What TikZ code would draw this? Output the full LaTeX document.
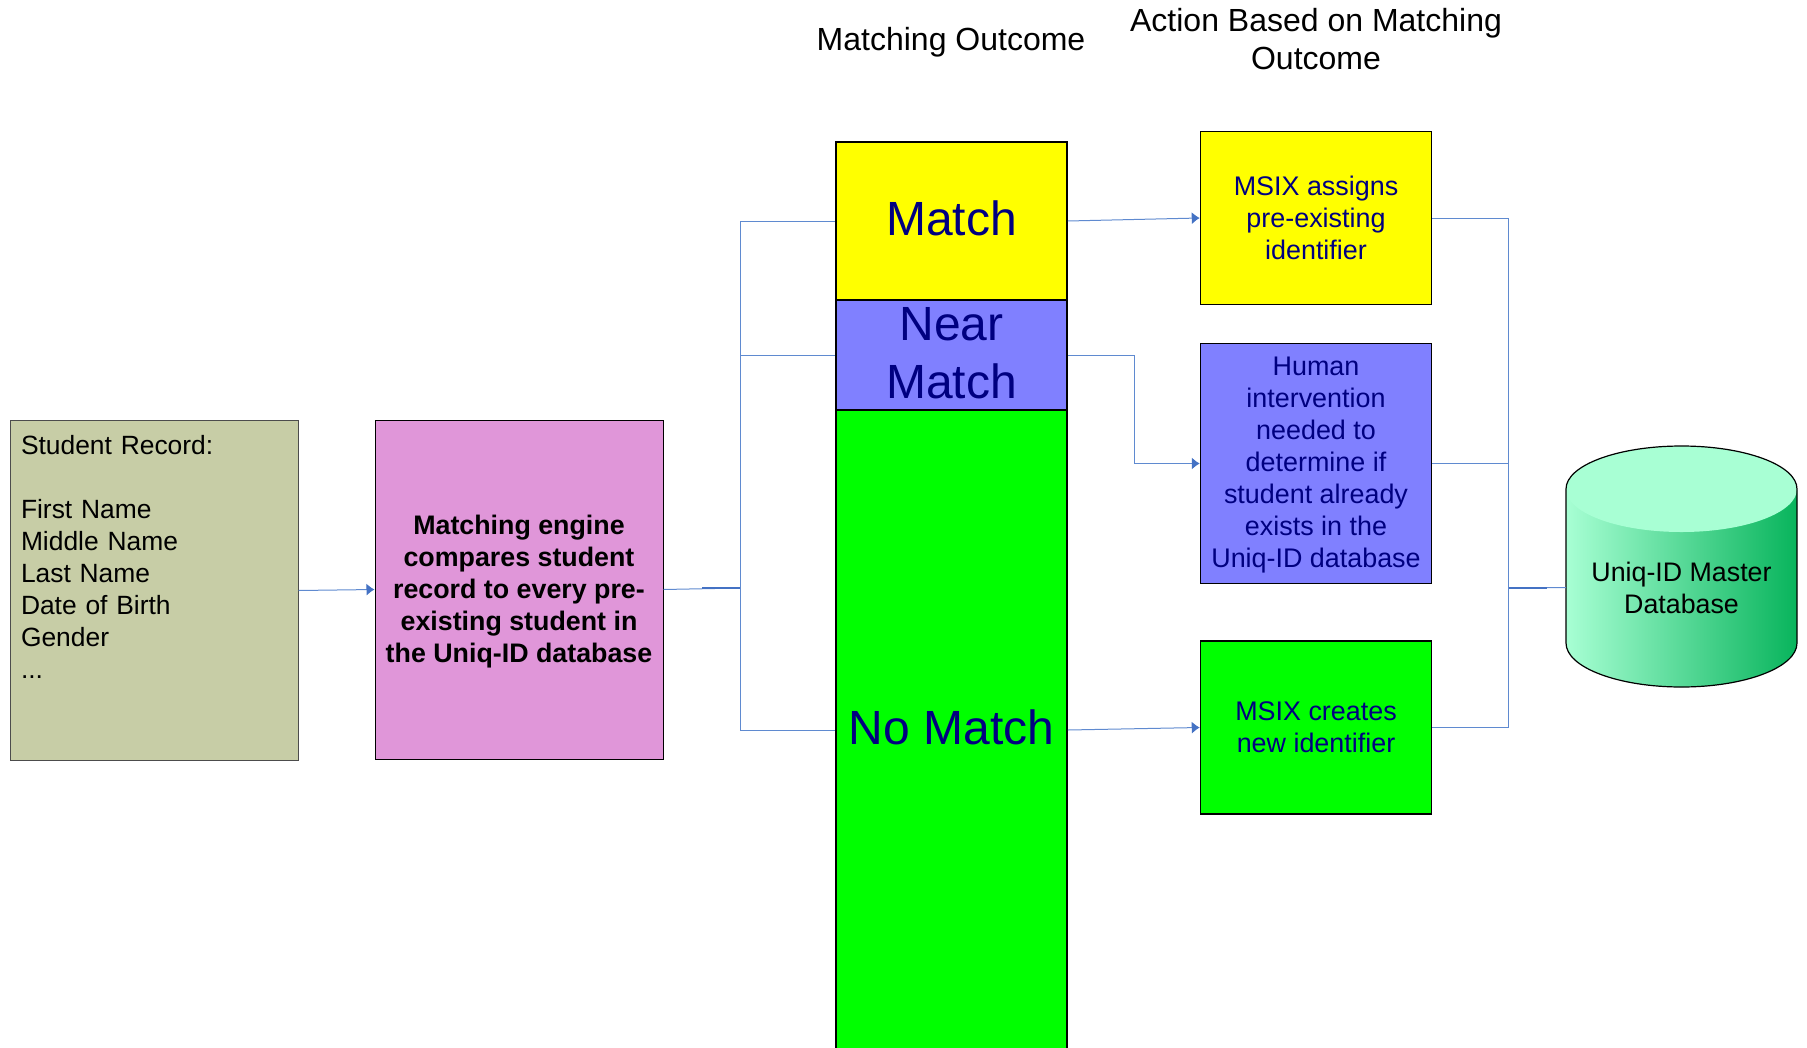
\documentclass[tikz,border=0pt]{standalone}
\usepackage{fontspec}
\setmainfont{Liberation Sans}
\usetikzlibrary{arrows.meta}
\definecolor{recordcol}{HTML}{C7CDA6}
\definecolor{enginecol}{HTML}{E096D9}
\definecolor{matchcol}{HTML}{FFFF00}
\definecolor{nearcol}{HTML}{8080FF}
\definecolor{nomatchcol}{HTML}{00FF00}
\definecolor{textcol}{HTML}{000080}
\definecolor{linecol}{HTML}{5F8AD0}
\definecolor{headcol}{HTML}{4472C4}
\definecolor{canlight}{HTML}{A8FFD4}
\definecolor{candark}{HTML}{08B45C}
\tikzset{
	basebox/.style={draw=black, line width=1.5pt, inner sep=0pt, align=center, text=textcol},
	outcome/.style={basebox, minimum width=231pt, font=\fontsize{48}{57.6}\selectfont},
	action/.style={basebox, minimum width=231pt, font=\fontsize{26.9}{32}\selectfont},
	heading/.style={align=center, inner sep=0pt, font=\fontsize{32}{38}\selectfont},
	conn/.style={draw=linecol, line width=1pt},
	connarrow/.style={conn, -{Latex[length=8pt,width=12pt,color=headcol]}},
	joinpart/.style={draw=headcol, line width=2pt}
}
\begin{document}
\begin{tikzpicture}[x=1pt, y=-1pt]
	\useasboundingbox (0,0) rectangle (1807,1047);
	\clip (0,0) rectangle (1807,1047);
	
	% Headings
	\node[heading] (outcometitle) at (951,42.5) {Matching Outcome};
	\node[heading] (actiontitle) at (1316,39) {Action Based on Matching\\Outcome};
	
	% Input boxes
	\node[draw=black!70, line width=1pt, fill=recordcol, inner sep=0pt, minimum width=288pt, minimum height=340pt,
		font=\fontsize{26.4}{32}\selectfont, text width=266pt, align=left] (record) at (154,590.5)
		{Student Record:\\ \mbox{}\\ First Name\\ Middle Name\\ Last Name\\ Date of Birth\\ Gender\\ ...\\ \mbox{}\\[4pt] \mbox{}};
	\node[draw=black, line width=1pt, fill=enginecol, inner sep=0pt, minimum width=288pt, minimum height=339pt, align=center,
		text depth=2pt, font=\fontsize{26.8}{32}\selectfont\bfseries] (engine) at (519,589.5)
		{Matching engine\\compares student\\record to every pre-\\existing student in\\the Uniq-ID database};
	
	% Outcome column
	\node[outcome, fill=matchcol, minimum height=158pt, text depth=6pt] (match) at (951.5,221) {Match};
	\node[outcome, fill=nomatchcol, minimum height=640pt, text depth=6pt] (nomatch) at (951.5,730) {No Match};
	\node[outcome, fill=nearcol, minimum height=110pt, text depth=4.5pt] (near) at (951.5,355) {Near\\Match};
	
	% Action boxes
	\node[action, fill=matchcol, minimum height=173pt] (assign) at (1316,218) {MSIX assigns\\pre-existing\\identifier};
	\node[action, fill=nearcol, minimum height=240pt, text depth=2pt] (human) at (1316,463.5)
		{Human\\intervention\\needed to\\determine if\\student already\\exists in the\\Uniq-ID database};
	\node[action, fill=nomatchcol, minimum height=173pt] (create) at (1316,727.5) {MSIX creates\\new identifier};
	
	% Database can
	\shade[left color=canlight, right color=candark] (1566,490) -- (1566,643) arc (180:0:115.5 and 44) -- (1797,490) -- cycle;
	\fill[canlight] (1681.5,489) ellipse (115.5 and 43);
	\draw[line width=1.2pt] (1566,643) -- (1566,489) arc (180:360:115.5 and 43) -- (1797,643) arc (0:180:115.5 and 44);
	\node[inner sep=0pt, minimum width=231pt, align=center, font=\fontsize{26.8}{32}\selectfont] (master) at (1681.5,587.5) {Uniq-ID Master\\Database};
	
	% Joins of the connectors
	\coordinate (splitleft) at (740,588);
	\coordinate (splitright) at (1508.5,588);
	\coordinate (thickleft) at (702,588);
	\coordinate (thickright) at (1547,588);
	\coordinate (nearbend) at (1134,355);
	
	% Draw connectors
	\draw[connarrow] (record.east) -- (engine.west);
	\draw[conn] (engine.east) -- (splitleft);
	\foreach \name in {match,near,nomatch}
	\draw[conn] (splitleft) |- (\name.west);
	\draw[joinpart] (thickleft) -- (splitleft);
	
	\draw[connarrow] (match.east) -- (assign.west);
	\draw[connarrow] (near.east) -- (nearbend) |- (human.west);
	\draw[connarrow] (nomatch.east) -- (create.west);
	
	\foreach \name in {assign,human,create}
	\draw[conn] (\name.east) -| (splitright);
	\draw[conn] (splitright) -- (master.west);
	\draw[joinpart] (splitright) -- (thickright);
\end{tikzpicture}
\end{document}
